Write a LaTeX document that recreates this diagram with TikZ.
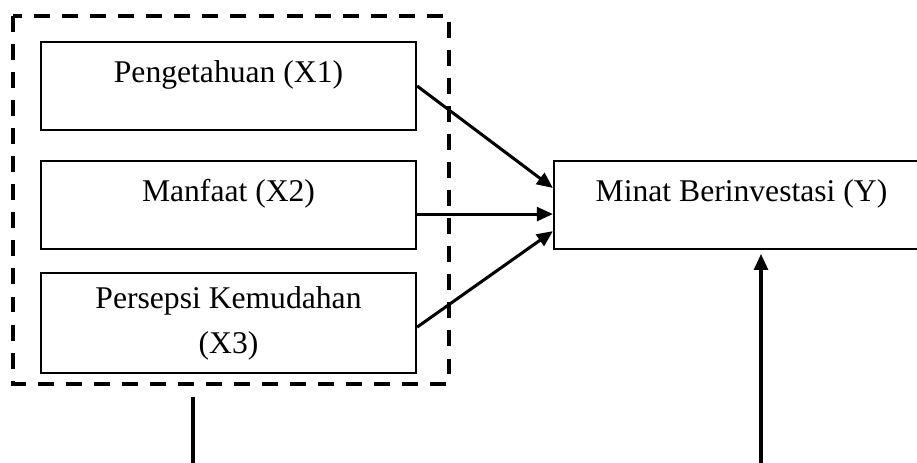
\documentclass[tikz,border=0pt]{standalone}
\usepackage{fontspec}
\setmainfont{Liberation Serif}
\usepackage{tikz}
\usetikzlibrary{arrows.meta}
\usetikzlibrary{calc}

\tikzset{
  varbox/.style={draw, line width=0.75pt, minimum width=136.4pt, align=center},
  onelinebox/.style={varbox, text height=14.9pt, text depth=17.1pt, inner ysep=0pt},
  arr/.style={line width=1.1pt, -{Triangle[length=5.8pt,width=5pt]}}
}

\begin{document}
\begin{tikzpicture}[x=0.3636pt, y=-0.3636pt, font=\fontsize{11.5}{16.4}\selectfont]
          \clip (0,0) rectangle (917,462);

          % Cadre en tirets
          \draw[line width=1.1pt, dash pattern=on 5.8pt off 4.4pt] (13,16) rectangle (449,384);

          % Variables X
          \node[onelinebox] (x1) at (228.5,86) {Pengetahuan (X1)};
          \node[onelinebox] (x2) at (228.5,205) {Manfaat (X2)};
          \node[varbox, minimum height=36.4pt] (x3) at (228.5,323) {Persepsi Kemudahan\\(X3)};

          % Variable Y (coupee a droite)
          \node[onelinebox] (y) at (741.5,205) {Minat Berinvestasi (Y)};

          % Fleches vers Y
          \draw[arr] (x1.east) -- ([yshift=6.2pt]y.west);
          \draw[arr] ([yshift=-3.3pt]x2.east) -- ([yshift=-3.3pt]y.west);
          \draw[arr] ([yshift=-1.5pt]x3.east) -- ([yshift=-9.5pt]y.west);

          % Traits du bas
          \coordinate (xtop) at (193,397);
          \coordinate (xbot) at (193,475);
          \draw[line width=1.1pt] (xtop) -- (xbot);

          \coordinate (ybot) at (761,475);
          \draw[arr, shorten >=1.4pt] (ybot) -- (ybot |- y.south);
\end{tikzpicture}
\end{document}
